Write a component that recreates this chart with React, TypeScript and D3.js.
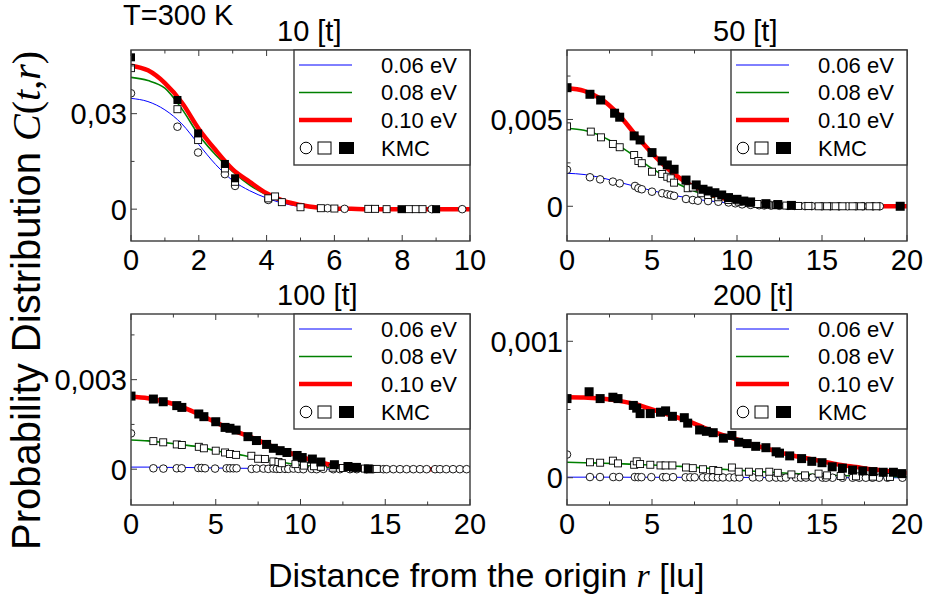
import * as d3 from "d3";

// ---- data ----
const energyLabels = ["0.06 eV", "0.08 eV", "0.10 eV"];
const lineColors = ["#0000ff", "#008000", "#ff0000"];
const lineWidths = [1, 1.6, 4.5];

const rGrid10 = [0, 0.5, 1, 1.5, 2, 2.5, 3, 3.5, 4, 4.5, 5, 5.5, 6, 6.5, 7, 7.5, 8, 8.5, 9, 9.5, 10];
const rGrid20 = [0, 1, 2, 3, 4, 5, 6, 7, 8, 9, 10, 11, 12, 13, 14, 15, 16, 17, 18, 19, 20];

// t = 10
const blue10 = [0.0348, 0.0338, 0.0312, 0.0268, 0.0203, 0.014, 0.009, 0.0058, 0.0035, 0.0018, 0.0008, 0.0003, 0.0001, 0, 0, 0, 0, 0, 0, 0, 0];
const green10 = [0.0414, 0.0404, 0.038, 0.0315, 0.0233, 0.017, 0.0118, 0.0076, 0.0045, 0.0024, 0.0011, 0.0004, 0.0001, 0, 0, 0, 0, 0, 0, 0, 0];
const red10 = [0.0451, 0.0436, 0.0396, 0.0335, 0.0252, 0.0185, 0.0125, 0.0086, 0.005, 0.0026, 0.0013, 0.0005, 0.0002, 0.0001, 0, 0, 0, 0, 0, 0, 0];
const circ10 = [[0, 0.0364], [1.37, 0.0259], [1.98, 0.0178], [2.77, 0.011], [3.07, 0.0073], [4.05, 0.0029], [5.8, 0.0003], [6.3, 0.0001], [8.87, 0], [9.77, 0]];
const sq10 = [[0, 0.0443], [1.37, 0.0314], [1.98, 0.0217], [2.77, 0.0128], [3.07, 0.0086], [4.05, 0.0034], [4.25, 0.004], [4.45, 0.0022], [5.0, 0.0006], [5.6, 0.0003], [6.0, 0.0002], [7.0, 0.0001], [7.2, 0.0001], [7.54, 0], [8.2, 0], [8.4, 0], [8.6, 0]];
const fill10 = [[0, 0.0477], [1.37, 0.0343], [1.98, 0.0238], [2.77, 0.0142], [3.07, 0.0097], [7.98, 0], [9.0, 0]];

// t = 50
const blue50 = [0.0019, 0.00183, 0.00165, 0.0014, 0.00115, 0.0009, 0.00068, 0.0005, 0.00035, 0.00024, 0.00016, 0.0001, 0.00006, 0.00003, 0.00001, 0, 0, 0, 0, 0, 0];
const green50 = [0.00448, 0.00438, 0.00405, 0.00352, 0.00287, 0.00218, 0.00157, 0.00107, 0.0007, 0.00043, 0.00025, 0.00014, 0.00007, 0.00003, 0.00001, 0, 0, 0, 0, 0, 0];
const red50 = [0.0068, 0.00665, 0.00618, 0.00532, 0.00415, 0.00305, 0.0021, 0.00138, 0.00086, 0.00052, 0.0003, 0.00017, 0.00009, 0.00004, 0.00002, 0, 0, 0, 0, 0, 0];
const circ50 = [[0, 0.0021], [1.35, 0.00167], [1.95, 0.00155], [2.7, 0.00142], [3.1, 0.00132], [4.0, 0.00117], [4.2, 0.00104], [4.4, 0.00098], [5.0, 0.00084], [5.6, 0.00075], [5.9, 0.00069], [6.1, 0.00065], [6.3, 0.0006], [7.0, 0.00042], [7.4, 0.00036], [7.7, 0.00032], [8.3, 0.0003], [8.9, 0.00026], [9.5, 0.00022], [9.9, 0.00017], [10.3, 0.00011], [10.8, 0.00008], [11.3, 0.00006], [11.6, 0.00005], [12.0, 0.00004], [12.5, 0.00003], [13.0, 0.00002], [13.4, 0.00002], [14.0, 0.00001], [14.4, 0.00001], [15.0, 0], [15.5, 0], [16.0, 0], [16.5, 0], [17.0, 0], [17.4, 0], [18.0, 0], [18.4, 0]];
const sq50 = [[0, 0.0046], [1.4, 0.0043], [2.0, 0.00397], [2.7, 0.00359], [3.1, 0.0034], [3.95, 0.00295], [4.2, 0.00261], [4.4, 0.00248], [5.0, 0.00199], [5.6, 0.00186], [5.9, 0.0017], [6.1, 0.00161], [6.3, 0.00136], [7.1, 0.00104], [7.4, 0.00108], [7.9, 0.00075], [8.3, 0.00065], [8.9, 0.00052], [9.5, 0.00036], [10.1, 0.00027], [10.7, 0.00018], [11.2, 0.00013], [11.8, 0.00009], [12.3, 0.00006], [12.9, 0.00004], [13.6, 0.00002], [14.2, 0.00001], [14.8, 0], [15.3, 0], [15.8, 0], [16.2, 0], [16.8, 0], [17.3, 0], [17.8, 0], [18.2, 0]];
const fill50 = [[0, 0.00683], [1.35, 0.00645], [1.98, 0.00612], [2.8, 0.00536], [3.1, 0.00513], [3.95, 0.00405], [4.3, 0.00382], [5.0, 0.00309], [5.6, 0.00261], [5.9, 0.00238], [6.3, 0.00213], [7.0, 0.00151], [7.6, 0.00123], [8.0, 0.00098], [8.3, 0.00088], [8.7, 0.00078], [9.1, 0.00065], [9.5, 0.0005], [10.0, 0.0004], [10.4, 0.0003], [10.8, 0.00025], [11.7, 0.00015], [12.4, 0.0001], [13.2, 0.00005], [19.6, 0]];

// t = 100
const blue100 = [0.00007, 0.00007, 0.00006, 0.00006, 0.00005, 0.00004, 0.00003, 0.00003, 0.00002, 0.00002, 0.00001, 0.00001, 0, 0, 0, 0, 0, 0, 0, 0, 0];
const green100 = [0.00098, 0.00095, 0.00089, 0.00082, 0.00075, 0.00062, 0.00053, 0.00042, 0.00031, 0.00022, 0.00014, 0.00009, 0.00005, 0.00002, 0, 0, 0, 0, 0, 0, 0];
const red100 = [0.00243, 0.00238, 0.00226, 0.00209, 0.00184, 0.00157, 0.00131, 0.00109, 0.00084, 0.00062, 0.00042, 0.00025, 0.00012, 0.00006, 0.00003, 0.00001, 0, 0, 0, 0, 0];
const circ100 = [[0, 0.0012], [1.32, 0.00003], [1.91, 0.00002], [2.7, 0.00003], [2.99, 0.00003], [3.97, 0.00004], [4.17, 0.00004], [4.37, 0.00003], [4.96, 0.00002], [5.64, 0.00003], [5.84, 0.00003], [6.04, 0.00003], [6.23, 0.00003], [7.12, 0.00001], [7.41, 0.00002], [7.81, 0.00002], [8.1, 0.00001], [8.4, 0.00002], [8.6, 0.00001], [8.79, 0.00001], [9.09, 0.00001], [9.28, 0.00001], [9.58, 0.00002], [9.87, 0.00001], [10.17, 0], [10.66, 0.00001], [10.95, 0], [11.35, 0.00001], [11.94, 0], [12.33, 0], [12.92, 0], [13.32, 0], [13.9, 0], [14.3, 0], [14.89, 0], [15.08, 0], [15.48, 0], [15.87, 0], [16.26, 0], [16.66, 0], [17.05, 0], [17.44, 0], [17.94, 0], [18.23, 0], [18.6, 0], [19.0, 0], [19.4, 0], [19.8, 0]];
const sq100 = [[1.32, 0.00094], [1.9, 0.0009], [2.7, 0.00083], [3.0, 0.00081], [4.0, 0.00075], [4.3, 0.0007], [5.0, 0.00062], [5.55, 0.00056], [5.84, 0.00051], [6.2, 0.00048], [7.1, 0.00045], [7.5, 0.00035], [7.9, 0.00034], [8.4, 0.00026], [8.7, 0.00024], [8.9, 0.0002], [9.7, 0.00017], [10.2, 0.00012], [10.8, 0.0001], [11.2, 0.00008], [11.9, 0.00005], [12.5, 0.00004], [13.1, 0.00003], [13.8, 0.00002], [14.5, 0.00001]];
const fill100 = [[0, 0.00245], [1.32, 0.00235], [1.9, 0.00226], [2.7, 0.00213], [3.0, 0.00207], [4.0, 0.00185], [4.3, 0.00176], [5.0, 0.00159], [5.55, 0.0014], [5.84, 0.00137], [6.2, 0.00131], [6.9, 0.00109], [7.4, 0.00096], [8.0, 0.00083], [8.4, 0.0007], [8.8, 0.00062], [9.2, 0.00056], [9.8, 0.00046], [10.1, 0.00039], [10.7, 0.00034], [11.2, 0.00024], [12.0, 0.00015], [12.8, 0.00009], [13.3, 0.00006], [14.0, 0.00001]];

// t = 200
const blue200 = [0.000004, 0.000004, 0.000004, 0.000004, 0.000003, 0.000003, 0.000003, 0.000003, 0.000002, 0.000002, 0.000002, 0.000002, 0.000001, 0.000001, 0.000001, 0.000001, 0, 0, 0, 0, 0];
const green200 = [0.000113, 0.00011, 0.000107, 0.000103, 0.000098, 0.000093, 0.000088, 0.00008, 0.000072, 0.000063, 0.000055, 0.000047, 0.00004, 0.000033, 0.000026, 0.000021, 0.000016, 0.000013, 0.00001, 0.000008, 0.000006];
const red200 = [0.00059, 0.000588, 0.00058, 0.000565, 0.00054, 0.0005, 0.00046, 0.00042, 0.00037, 0.00032, 0.00028, 0.00024, 0.000205, 0.00017, 0.000145, 0.00012, 0.000096, 0.000078, 0.00006, 0.000047, 0.000035];
const circ200 = [[0, 0.00017], [1.35, 0.000005], [1.94, 0.000005], [2.72, 0.000005], [3.07, 0.000005], [3.99, 0.000005], [4.19, 0.000004], [4.38, 0.000004], [4.96, 0.000004], [5.65, 0.000004], [5.84, 0.000004], [6.24, 0.000004], [6.98, 0.000003], [7.25, 0.000003], [7.51, 0.000003], [8.0, 0.000003], [8.29, 0.000003], [8.58, 0.000003], [8.88, 0.000002], [9.17, 0.000002], [9.56, 0.000002], [9.85, 0.000002], [10.15, 0.000002], [10.93, 0.000002], [11.32, 0.000002], [11.9, 0.000001], [12.3, 0.000001], [12.59, 0.000001], [12.88, 0.000001], [13.47, 0.000001], [13.76, 0.000001], [14.06, 0.000001], [14.45, 0.000001], [15.03, 0.000001], [15.23, 0], [15.62, 0], [16.21, 0], [16.8, 0], [17.19, 0], [17.58, 0], [17.97, 0], [18.36, 0], [18.85, 0], [19.73, 0]];
const sq200 = [[1.35, 0.000113], [1.95, 0.00011], [2.7, 0.000125], [3.0, 0.000105], [3.95, 0.000095], [4.1, 0.00012], [4.3, 0.0001], [4.9, 0.000095], [5.5, 0.00009], [5.8, 0.00009], [6.2, 0.00009], [7.0, 0.000075], [7.4, 0.00007], [8.0, 0.000062], [8.6, 0.000056], [8.9, 0.00005], [9.7, 0.000075], [10.1, 0.000044], [10.7, 0.000044], [11.3, 0.00004], [11.9, 0.000044], [12.4, 0.000036], [13.2, 0.000024], [14.0, 0.000017], [14.8, 0.00003], [15.3, 0.000017], [16.1, 0.000012], [17.0, 0.00001], [18.0, 0.000008], [19.0, 0.000006]];
const fill200 = [[0, 0.00058], [1.3, 0.00063], [1.95, 0.00058], [2.7, 0.00059], [3.0, 0.00058], [3.9, 0.00053], [4.1, 0.00051], [4.3, 0.00047], [4.9, 0.00047], [5.5, 0.00048], [5.8, 0.00049], [6.2, 0.00045], [6.9, 0.00044], [7.1, 0.0004], [7.8, 0.00035], [8.2, 0.00034], [8.6, 0.00033], [9.2, 0.00029], [9.7, 0.00031], [10.1, 0.00026], [10.6, 0.00025], [11.1, 0.00023], [11.7, 0.00022], [12.3, 0.00019], [12.5, 0.00018], [13.1, 0.00016], [13.8, 0.00014], [14.4, 0.00012], [15.0, 0.00011], [15.6, 0.00008], [16.2, 0.00007], [16.8, 0.000056], [17.4, 0.00005], [18.0, 0.000045], [18.6, 0.00004], [19.2, 0.00004], [19.7, 0.00003]];

const xMajor10 = [0, 2, 4, 6, 8, 10];
const xMinor10 = [1, 3, 5, 7, 9];
const xMajor20 = [0, 5, 10, 15, 20];
const xMinor20 = [2.5, 7.5, 12.5, 17.5];

const FONT = "'Liberation Sans', Arial, sans-serif";
const SERIF = "'Liberation Serif', 'Times New Roman', serif";
const FRAME = "#3a3a3a";

type Pt = number[];
type PanelCfg = {
  title: string;
  x0: number; x1: number; y0: number; y1: number;
  xDomain: number[]; yDomain: number[];
  xMajor: number[]; xMinor: number[];
  yMajor: number[]; yMinor: number[]; yLabels: string[];
  grid: number[]; lines: number[][];
  circles: Pt[]; squares: Pt[]; filled: Pt[];
  ms: number; fs: number;
};

const panels: PanelCfg[] = [
  { title: "10 [t]", x0: 131, x1: 470, y0: 50, y1: 241, xDomain: [0, 10], yDomain: [-0.01, 0.05],
    xMajor: xMajor10, xMinor: xMinor10, yMajor: [0, 0.03], yMinor: [0.015, 0.045], yLabels: ["0", "0,03"],
    grid: rGrid10, lines: [blue10, green10, red10], circles: circ10, squares: sq10, filled: fill10, ms: 7, fs: 8 },
  { title: "50 [t]", x0: 567, x1: 907, y0: 50, y1: 241, xDomain: [0, 20], yDomain: [-0.002, 0.009],
    xMajor: xMajor20, xMinor: xMinor20, yMajor: [0, 0.005], yMinor: [0.0025, 0.0075], yLabels: ["0", "0,005"],
    grid: rGrid20, lines: [blue50, green50, red50], circles: circ50, squares: sq50, filled: fill50, ms: 7, fs: 9 },
  { title: "100 [t]", x0: 131, x1: 470, y0: 314, y1: 505, xDomain: [0, 20], yDomain: [-0.0012, 0.0052],
    xMajor: xMajor20, xMinor: xMinor20, yMajor: [0, 0.003], yMinor: [0.0015, 0.0045], yLabels: ["0", "0,003"],
    grid: rGrid20, lines: [blue100, green100, red100], circles: circ100, squares: sq100, filled: fill100, ms: 7, fs: 9 },
  { title: "200 [t]", x0: 567, x1: 907, y0: 314, y1: 505, xDomain: [0, 20], yDomain: [-0.0002, 0.0012],
    xMajor: xMajor20, xMinor: xMinor20, yMajor: [0, 0.001], yMinor: [0.0005], yLabels: ["0", "0,001"],
    grid: rGrid20, lines: [blue200, green200, red200], circles: circ200, squares: sq200, filled: fill200, ms: 7, fs: 9 },
];

function Panel({ p, idx }: { p: PanelCfg; idx: number }) {
  const x = d3.scaleLinear().domain(p.xDomain).range([p.x0, p.x1]);
  const y = d3.scaleLinear().domain(p.yDomain).range([p.y1, p.y0]);
  const clipId = `clip${idx}`;
  const h = p.ms / 2;
  const lg = { x: p.x1 - 176, y: p.y0, w: 176, h: 115 };
  const rows = [15, 42.5, 70, 98];

  return (
    <g>
      <clipPath id={clipId}>
        <rect x={p.x0} y={p.y0} width={p.x1 - p.x0} height={p.y1 - p.y0} />
      </clipPath>
      <g clipPath={`url(#${clipId})`}>
        {p.lines.map((vals, i) => {
          const path = d3
            .line<number>()
            .x((_, j) => x(p.grid[j]))
            .y((v) => y(v))
            .curve(d3.curveMonotoneX)(vals);
          return <path key={i} d={path || ""} fill="none" stroke={lineColors[i]} strokeWidth={lineWidths[i]} />;
        })}
        {p.circles.map((d, i) => (
          <circle key={"c" + i} cx={x(d[0])} cy={y(d[1])} r={h + 0.3} fill="#fff" stroke="#000" strokeWidth={0.9} />
        ))}
        {p.squares.map((d, i) => (
          <rect key={"s" + i} x={x(d[0]) - h} y={y(d[1]) - h} width={p.ms} height={p.ms} fill="#fff" stroke="#000" strokeWidth={0.9} />
        ))}
        {p.filled.map((d, i) => (
          <rect key={"f" + i} x={x(d[0]) - p.fs / 2} y={y(d[1]) - p.fs / 2} width={p.fs} height={p.fs} fill="#000" />
        ))}
      </g>
      <rect x={p.x0} y={p.y0} width={p.x1 - p.x0} height={p.y1 - p.y0} fill="none" stroke={FRAME} strokeWidth={1.4} />
      {p.xMajor.map((v) => (
        <g key={"xm" + v}>
          <line x1={x(v)} x2={x(v)} y1={p.y1} y2={p.y1 - 6} stroke={FRAME} />
          <line x1={x(v)} x2={x(v)} y1={p.y0} y2={p.y0 + 6} stroke={FRAME} />
          <text x={x(v)} y={p.y1 + 29} textAnchor="middle" fontSize={29} fontFamily={FONT}>{v}</text>
        </g>
      ))}
      {p.xMinor.map((v) => (
        <g key={"xn" + v}>
          <line x1={x(v)} x2={x(v)} y1={p.y1} y2={p.y1 - 3.5} stroke={FRAME} />
          <line x1={x(v)} x2={x(v)} y1={p.y0} y2={p.y0 + 3.5} stroke={FRAME} />
        </g>
      ))}
      {p.yMajor.map((v, i) => (
        <g key={"ym" + v}>
          <line x1={p.x0} x2={p.x0 + 6} y1={y(v)} y2={y(v)} stroke={FRAME} />
          <text x={p.x0 - 4} y={y(v)} dy="0.36em" textAnchor="end" fontSize={29} fontFamily={FONT}>{p.yLabels[i]}</text>
        </g>
      ))}
      {p.yMinor.map((v) => (
        <line key={"yn" + v} x1={p.x0} x2={p.x0 + 3.5} y1={y(v)} y2={y(v)} stroke={FRAME} />
      ))}
      <text x={p.x0 + 146} y={p.y0 - 9} fontSize={29} fontFamily={FONT}>{p.title}</text>

      {/* legend */}
      <rect x={lg.x} y={lg.y} width={lg.w} height={lg.h} fill="#fff" stroke={FRAME} strokeWidth={1.4} />
      {energyLabels.map((lab, i) => (
        <g key={lab}>
          <line x1={lg.x + 5} x2={lg.x + 58} y1={lg.y + rows[i]} y2={lg.y + rows[i]} stroke={lineColors[i]} strokeWidth={lineWidths[i]} />
          <text x={lg.x + 87} y={lg.y + rows[i]} dy="0.36em" fontSize={22} fontFamily={FONT}>{lab}</text>
        </g>
      ))}
      <circle cx={lg.x + 12} cy={lg.y + rows[3]} r={5.8} fill="#fff" stroke="#000" />
      <rect x={lg.x + 24} y={lg.y + rows[3] - 6} width={13} height={12} fill="#fff" stroke="#000" />
      <rect x={lg.x + 45} y={lg.y + rows[3] - 6} width={15} height={12} fill="#000" />
      <text x={lg.x + 87} y={lg.y + rows[3]} dy="0.36em" fontSize={22} fontFamily={FONT}>KMC</text>
    </g>
  );
}

export default function App() {
  return (
    <svg
      width={926}
      height={601}
      style={{ display: "block", background: "#fff", position: "absolute", left: 0, top: 0 }}
    >
      {panels.map((p, i) => (
        <Panel key={i} p={p} idx={i} />
      ))}
      <text x={123} y={25} fontSize={29} fontFamily={FONT}>T=300 K</text>
      <text transform="translate(40,550) rotate(-90)" fontSize={40} fontFamily={FONT}>
        Probability Distribution{" "}
        <tspan fontFamily={SERIF} fontStyle="italic">C</tspan>
        <tspan fontFamily={SERIF}>(</tspan>
        <tspan fontFamily={SERIF} fontStyle="italic">t</tspan>
        <tspan fontFamily={SERIF}>,</tspan>
        <tspan fontFamily={SERIF} fontStyle="italic">r</tspan>
        <tspan fontFamily={SERIF}>)</tspan>
      </text>
      <text x={268} y={587} fontSize={34} fontFamily={FONT}>
        Distance from the origin <tspan fontFamily={SERIF} fontStyle="italic">r</tspan> [lu]
      </text>
    </svg>
  );
}
